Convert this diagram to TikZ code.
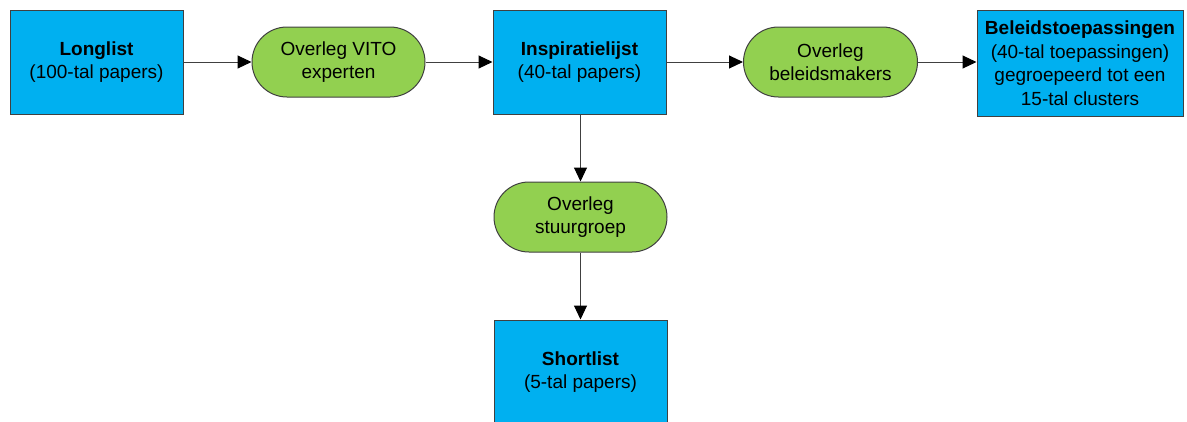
\documentclass[tikz,border=0pt]{standalone}
\usepackage{fontspec}
\setmainfont{Liberation Sans}
\usetikzlibrary{arrows.meta}
\definecolor{boxblue}{HTML}{00B0F0}
\definecolor{pillgreen}{HTML}{92D050}
\definecolor{edgegray}{HTML}{404040}
\begin{document}
\begin{tikzpicture}[x=1pt,y=-1pt,
  txt/.style={font=\fontsize{19}{23.5}\selectfont, align=center, text=black, inner sep=0pt},
  bluebox/.style={txt, draw=edgegray, line width=1pt, fill=boxblue, rectangle},
  pill/.style={txt, draw=edgegray, line width=1pt, fill=pillgreen, rectangle, rounded corners=35pt, minimum width=173pt, minimum height=70pt},
  conn/.style={draw=black!75, line width=1pt, -{Triangle[length=14pt,width=13pt,color=black]}}
]
\useasboundingbox (0,0) rectangle (1187,421);
\clip (0,0) rectangle (1187,421);
\node[bluebox, minimum width=173pt, minimum height=104pt] (long) at (96.5,62) {\textbf{Longlist}\\(100-tal papers)};
\node[pill] (vito) at (338.5,62) {Overleg VITO\\experten};
\node[bluebox, minimum width=173pt, minimum height=104pt] (insp) at (579.5,62) {\textbf{Inspiratielijst}\\(40-tal papers)};
\node[pill, minimum width=174pt] (bel) at (830.5,62) {Overleg\\beleidsmakers};
\node[bluebox, minimum width=206pt, minimum height=106pt] (toep) at (1080,63) {\textbf{Beleidstoepassingen}\\(40-tal toepassingen)\\gegroepeerd tot een\\15-tal clusters};
\node[pill] (stuur) at (580.5,217) {Overleg\\stuurgroep};
\node[bluebox, minimum width=173pt, minimum height=104pt] (short) at (580.5,372) {\textbf{Shortlist}\\(5-tal papers)};
\draw[conn] (long) -- (vito);
\draw[conn] (vito) -- (insp);
\draw[conn] (insp) -- (bel);
\draw[conn] (bel) -- (toep.west |- bel.east);
\draw[conn] (insp.south -| stuur.north) -- (stuur.north);
\draw[conn] (stuur) -- (short);
\end{tikzpicture}
\end{document}
